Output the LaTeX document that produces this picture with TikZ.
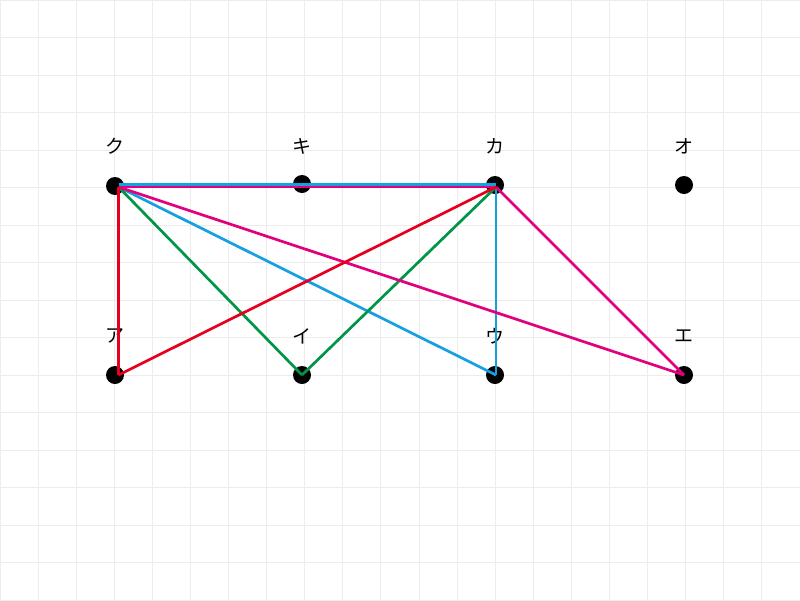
\documentclass[tikz,border=0pt]{standalone}
\usepackage{fontspec}
\newfontfamily\jp{Noto Sans CJK JP}
\definecolor{gridc}{RGB}{236,236,236}
\definecolor{eblue}{RGB}{20,160,225}
\definecolor{egreen}{RGB}{0,150,70}
\definecolor{ered}{RGB}{230,0,30}
\definecolor{emag}{RGB}{225,0,125}
\begin{document}
\begin{tikzpicture}[x=1pt,y=-1pt,
  dot/.style={circle,fill=black,inner sep=0pt,minimum size=18pt},
  lab/.style={font=\jp\fontsize{19}{19}\selectfont,inner sep=0pt},
  edge/.style={line width=2.7pt}]
\useasboundingbox (0,0) rectangle (800,600);
\fill[white] (0,0) rectangle (800,600);
\foreach \i in {0,...,21} \draw[gridc,line width=1pt] ({\i*38.095},0) -- ({\i*38.095},600);
\foreach \j in {0,...,16} \draw[gridc,line width=1pt] (0,{\j*37.5}) -- (800,{\j*37.5});
% nodes
\node[dot] (ku) at (115,186) {};
\node[dot] (ki) at (302,184) {};
\node[dot] (ka) at (495,185) {};
\node[dot] (o) at (684,185) {};
\node[dot] (a) at (115,375) {};
\node[dot] (i) at (302,375) {};
\node[dot] (u) at (495,375) {};
\node[dot] (e) at (684,375) {};
% labels
\node[lab] (lku) at (115,146) {ク};
\node[lab] (lki) at (302,146) {キ};
\node[lab] (lka) at (495,146) {カ};
\node[lab] (lo) at (684,146) {オ};
\node[lab] (la) at (115,336) {ア};
\node[lab] (li) at (302,336) {イ};
\node[lab] (lu) at (495,336) {ウ};
\node[lab] (le) at (684,336) {エ};
% edge anchors
\coordinate (kuc) at (118.5,187);
\coordinate (kac) at (496,187);
\coordinate (ac) at (118.5,375);
\coordinate (ic) at (302,375);
\coordinate (uc) at (496,375);
\coordinate (ec) at (684,375);
\coordinate (kub) at (118.5,184.5);
\coordinate (kab) at (496,184.5);
% edges
\draw[edge,eblue] (kub) -- (kab);
\draw[edge,emag] (kuc) -- (kac);
\draw[edge,eblue] (kuc) -- (uc);
\draw[edge,eblue] (kac) -- (uc);
\draw[edge,egreen] (kuc) -- (ic);
\draw[edge,egreen] (kac) -- (ic);
\draw[edge,emag] (kuc) -- (ec);
\draw[edge,emag] (kac) -- (ec);
\draw[edge,ered] (kuc) -- (ac);
\draw[edge,ered] (kac) -- (ac);
\end{tikzpicture}
\end{document}
